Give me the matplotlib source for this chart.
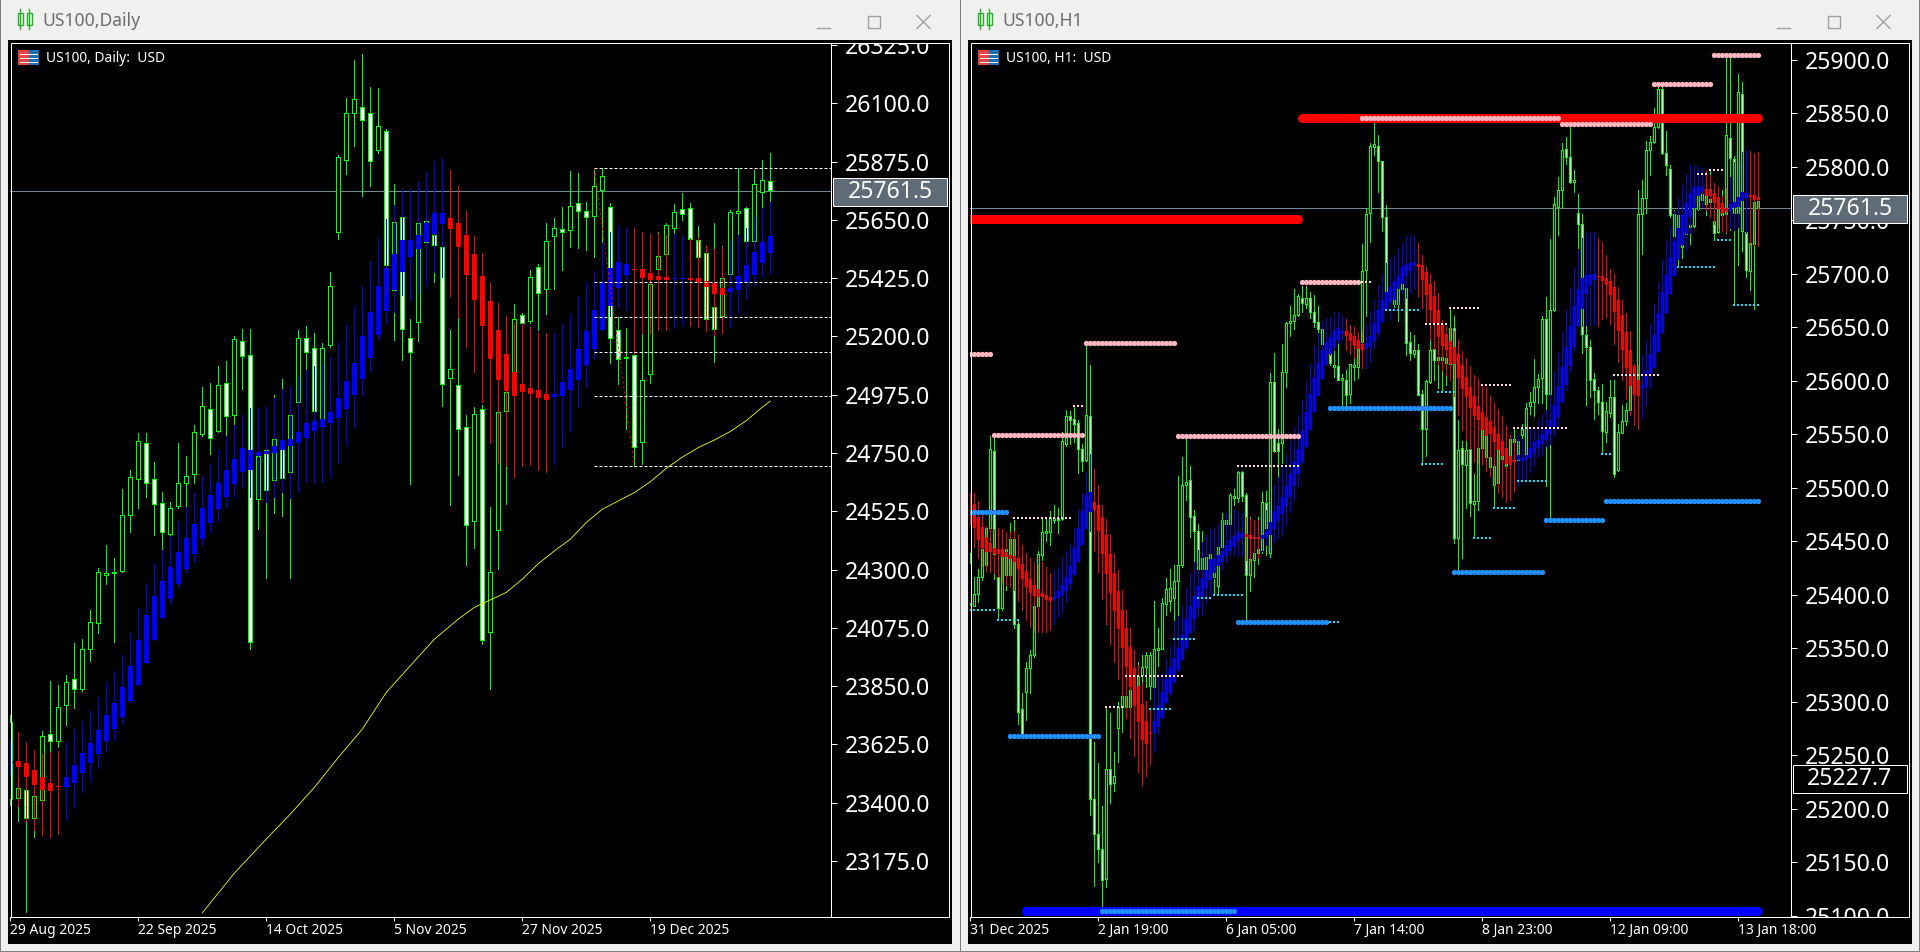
import matplotlib
matplotlib.use("Agg")
import matplotlib.pyplot as plt
import numpy as np
from matplotlib.patches import Rectangle
from matplotlib.transforms import Bbox

plt.rcParams["font.family"] = ["Noto Sans", "DejaVu Sans"]

FIG_W, FIG_H = 1920, 952
ONE_PX = 0.72

PRICE_NOW = 25761.5
PRICE_OTHER = 25227.7

# daily chart: plain candles
D_TOP = [
    23710, 23456, 23449, 23425, 23657, 23665, 23769, 23865, 23877, 23993,
    24097, 24290, 24285, 24291, 24510, 24656, 24795, 24788, 24649, 24556,
    24537, 24633, 24662, 24830, 24930, 24918, 25012, 25022, 25189, 25184,
    25130, 24739, 24762, 24803, 24800, 24896, 25193, 25193, 25154, 25154,
    25394, 25891, 26061, 26115, 26084, 26064, 26011, 25992, 25640, 25660,
    25195, 25637, 25645, 25592, 25544, 25073, 25012, 24849, 24900, 24919,
    24290, 24910, 24987, 25266, 25282, 25428, 25467, 25567, 25617, 25616,
    25702, 25714, 25683, 25782, 25818, 25698, 25224, 25120, 25130, 25031,
    25401, 25512, 25629, 25679, 25691, 25695, 25571, 25521, 25313, 25424,
    25679, 25685, 25695, 25787, 25803, 25799,
]
D_BOT = [
    23414, 23420, 23343, 23343, 23409, 23640, 23640, 23779, 23841, 23841,
    23995, 24092, 24281, 24287, 24295, 24512, 24649, 24636, 24552, 24447,
    24439, 24546, 24636, 24668, 24825, 24807, 24836, 24892, 24898, 25125,
    24021, 24574, 24606, 24646, 24655, 24678, 24948, 25139, 24914, 24875,
    25168, 25602, 25880, 26064, 26034, 25876, 25921, 25477, 25380, 25228,
    25139, 25257, 25565, 25553, 25015, 25038, 24842, 24471, 24487, 24027,
    24058, 24452, 24914, 25058, 25251, 25261, 25367, 25382, 25589, 25602,
    25610, 25683, 25660, 25664, 25764, 25193, 25112, 25116, 24772, 24794,
    25054, 25462, 25520, 25620, 25674, 25575, 25508, 25269, 25230, 25277,
    25440, 25678, 25570, 25570, 25759, 25764,
]
D_HIGH = [
    23740, 23497, 23500, 23470, 23678, 23870, 23855, 23892, 24016, 24031,
    24143, 24306, 24395, 24345, 24610, 24685, 24826, 24826, 24717, 24600,
    24561, 24788, 24739, 24858, 25005, 25019, 25086, 25105, 25202, 25228,
    25228, 24813, 24815, 24974, 25036, 24955, 25224, 25239, 25213, 25174,
    25448, 25900, 26119, 26267, 26290, 26162, 26158, 26000, 25788, 25765,
    25266, 25700, 25675, 25624, 25598, 25225, 25276, 24897, 24929, 24936,
    24542, 24936, 25084, 25325, 25292, 25457, 25478, 25637, 25656, 25701,
    25839, 25830, 25720, 25849, 25849, 25714, 25276, 25232, 25264, 25222,
    25408, 25602, 25637, 25711, 25752, 25714, 25626, 25547, 25637, 25549,
    25688, 25849, 25701, 25843, 25881, 25908,
]
D_LOW = [
    23390, 23328, 22980, 23266, 23380, 23594, 23616, 23701, 23764, 23833,
    23949, 24057, 24246, 24022, 24289, 24447, 24539, 24581, 24434, 24376,
    24427, 24537, 24542, 24636, 24817, 24747, 24833, 24813, 24858, 24997,
    23995, 24456, 24269, 24520, 24505, 24269, 24800, 25000, 24903, 24870,
    25161, 25576, 25828, 25936, 25743, 25782, 25909, 25470, 25186, 25109,
    24630, 25184, 25399, 25412, 24932, 24550, 24665, 24317, 24385, 24012,
    23841, 24304, 24552, 25032, 25212, 25253, 25223, 25287, 25384, 25457,
    25547, 25543, 25534, 25508, 25405, 25099, 25017, 24842, 24698, 24708,
    25019, 25431, 25508, 25594, 25650, 25572, 25502, 25264, 25103, 25270,
    25431, 25585, 25566, 25566, 25695, 25720,
]
D_WHITE = [
    2, 5, 8, 17, 18, 19, 25, 27, 29, 30, 32, 34, 37, 38, 44, 45, 47, 49, 50,
    53, 54, 56, 57, 59, 64, 66, 69, 71, 72, 75, 76, 78, 84, 85, 86, 87, 88,
    92, 95,
]

# daily chart: smoothed blue/red candles
DS_TOP = [
    23559, 23561, 23553, 23526, 23499, 23476, 23465, 23499, 23545, 23592,
    23630, 23682, 23738, 23785, 23846, 23927, 24029, 24124, 24197, 24255,
    24309, 24368, 24423, 24477, 24537, 24587, 24634, 24685, 24726, 24769,
    24762, 24754, 24757, 24778, 24801, 24803, 24830, 24865, 24873, 24880,
    24909, 24963, 25027, 25097, 25202, 25295, 25395, 25464, 25518, 25572,
    25572, 25590, 25637, 25675, 25675, 25657, 25638, 25592, 25518, 25433,
    25337, 25225, 25132, 25062, 25017, 25000, 24994, 24978, 24977, 25023,
    25073, 25150, 25220, 25302, 25408, 25464, 25486, 25478, 25460, 25459,
    25444, 25434, 25428, 25426, 25426, 25426, 25424, 25415, 25405, 25387,
    25386, 25433, 25475, 25527, 25563, 25588,
]
DS_BOT = [
    23555, 23539, 23501, 23469, 23451, 23447, 23460, 23459, 23477, 23513,
    23552, 23590, 23637, 23685, 23732, 23791, 23855, 23940, 24030, 24115,
    24185, 24246, 24303, 24362, 24419, 24478, 24532, 24581, 24632, 24677,
    24685, 24739, 24747, 24749, 24762, 24778, 24788, 24808, 24834, 24850,
    24865, 24886, 24920, 24974, 25034, 25118, 25206, 25298, 25379, 25450,
    25507, 25538, 25566, 25596, 25635, 25615, 25545, 25437, 25341, 25242,
    25111, 25033, 24991, 24972, 24987, 24979, 24963, 24956, 24967, 24972,
    24995, 25033, 25090, 25152, 25226, 25319, 25388, 25437, 25458, 25427,
    25419, 25419, 25419, 25422, 25422, 25419, 25412, 25392, 25365, 25361,
    25373, 25381, 25406, 25437, 25484, 25522,
]
DS_HIGH = [
    23640, 23674, 23635, 23604, 23588, 23594, 23600, 23635, 23684, 23716,
    23759, 23808, 23867, 23908, 23971, 24055, 24152, 24248, 24322, 24376,
    24428, 24487, 24541, 24600, 24662, 24713, 24762, 24816, 24859, 24897,
    24923, 24923, 24933, 24962, 24998, 25009, 25043, 25071, 25084, 25097,
    25120, 25179, 25243, 25318, 25395, 25490, 25580, 25652, 25707, 25765,
    25768, 25799, 25834, 25876, 25889, 25842, 25781, 25684, 25588, 25521,
    25405, 25328, 25279, 25253, 25253, 25236, 25219, 25212, 25212, 25248,
    25287, 25356, 25410, 25451, 25560, 25605, 25626, 25617, 25617, 25605,
    25596, 25601, 25592, 25596, 25588, 25579, 25579, 25553, 25536, 25547,
    25572, 25592, 25617, 25665, 25695, 25720,
]
DS_LOW = [
    23510, 23388, 23328, 23296, 23276, 23266, 23281, 23334, 23384, 23442,
    23485, 23536, 23598, 23639, 23706, 23787, 23855, 23940, 24030, 24115,
    24172, 24233, 24289, 24331, 24394, 24441, 24486, 24542, 24581, 24619,
    24582, 24585, 24561, 24582, 24598, 24578, 24598, 24640, 24634, 24640,
    24659, 24713, 24781, 24852, 24974, 25067, 25189, 25251, 25296, 25360,
    25345, 25367, 25399, 25450, 25431, 25356, 25276, 25161, 25064, 24948,
    24790, 24710, 24704, 24656, 24700, 24704, 24685, 24678, 24708, 24775,
    24835, 24927, 25006, 25112, 25225, 25276, 25315, 25302, 25131, 25212,
    25215, 25225, 25225, 25234, 25244, 25240, 25235, 25222, 25206, 25215,
    25238, 25292, 25343, 25397, 25431, 25444,
]
DS_BLUE_RUNS = [(0, 0), (7, 54), (68, 77), (83, 84), (90, 95)]

MA_BARS = [
    24, 28, 32, 35, 38, 41, 44, 47, 50, 53, 56, 58, 60, 62, 64, 66, 68, 70,
    72, 74, 76, 78, 80, 82, 84, 86, 88, 90, 92, 94, 95,
]
MA_VALUES = [
    22975, 23128, 23260, 23356, 23459, 23575, 23684, 23826, 23929, 24031,
    24109, 24154, 24183, 24212, 24263, 24323, 24372, 24417, 24482, 24533,
    24565, 24597, 24639, 24691, 24734, 24771, 24800, 24833, 24875, 24927,
    24950,
]
D_DASH_START = 73
D_DASH_LEVELS = [25849, 25409, 25274, 25139, 24969, 24699]
D_ZIGZAG_BARS = [73, 78]
D_ZIGZAG_VALUES = [25849, 24703]

D_YTICKS = [
    23175, 23400, 23625, 23850, 24075, 24300, 24525, 24750, 24975, 25200,
    25425, 25650, 25875, 26100, 26325,
]
D_XLABELS = ["29 Aug 2025", "22 Sep 2025", "14 Oct 2025", "5 Nov 2025", "27 Nov 2025", "19 Dec 2025"]

# H1 chart: plain candles
H_TOP = [
    25430, 25401, 25417, 25443, 25462, 25536, 25534, 25417, 25436, 25443,
    25452, 25452, 25373, 25293, 25331, 25344, 25389, 25438, 25459, 25460,
    25473, 25472, 25472, 25544, 25567, 25567, 25564, 25561, 25536, 25568,
    25567, 25209, 25176, 25162, 25237, 25237, 25230, 25295, 25305, 25305,
    25311, 25322, 25324, 25332, 25344, 25344, 25349, 25350, 25392, 25405,
    25406, 25413, 25428, 25503, 25505, 25507, 25474, 25460, 25434, 25435,
    25438, 25426, 25445, 25470, 25470, 25493, 25492, 25515, 25515, 25493,
    25433, 25439, 25443, 25487, 25486, 25599, 25599, 25542, 25608, 25654,
    25656, 25662, 25679, 25677, 25677, 25677, 25664, 25655, 25648, 25629,
    25625, 25615, 25614, 25603, 25601, 25616, 25615, 25638, 25703, 25756,
    25820, 25821, 25820, 25806, 25753, 25680, 25680, 25686, 25691, 25687,
    25636, 25629, 25629, 25588, 25600, 25629, 25630, 25622, 25622, 25621,
    25649, 25649, 25535, 25537, 25535, 25536, 25488, 25537, 25562, 25557,
    25529, 25520, 25535, 25530, 25526, 25546, 25546, 25544, 25555, 25575,
    25580, 25594, 25602, 25658, 25658, 25666, 25765, 25778, 25816, 25817,
    25809, 25788, 25757, 25747, 25643, 25632, 25602, 25591, 25580, 25572,
    25585, 25585, 25552, 25562, 25573, 25598, 25604, 25756, 25771, 25816,
    25823, 25837, 25873, 25873, 25813, 25798, 25756, 25755, 25735, 25741,
    25746, 25763, 25773, 25775, 25777, 25770, 25749, 25766, 25766, 25830,
    25827, 25807, 25870, 25868, 25739, 25729, 25767, 25768,
]
H_BOT = [
    25392, 25389, 25401, 25417, 25428, 25462, 25438, 25388, 25388, 25418,
    25418, 25373, 25290, 25269, 25309, 25331, 25344, 25389, 25437, 25458,
    25459, 25470, 25470, 25471, 25541, 25563, 25560, 25536, 25525, 25526,
    25209, 25176, 25162, 25133, 25134, 25223, 25224, 25275, 25295, 25295,
    25295, 25311, 25307, 25325, 25332, 25315, 25314, 25348, 25349, 25391,
    25394, 25397, 25413, 25428, 25503, 25473, 25460, 25424, 25424, 25424,
    25423, 25417, 25408, 25445, 25466, 25466, 25490, 25490, 25492, 25418,
    25418, 25432, 25439, 25442, 25462, 25439, 25534, 25534, 25542, 25608,
    25654, 25656, 25662, 25673, 25672, 25664, 25655, 25648, 25634, 25616,
    25617, 25613, 25601, 25601, 25587, 25588, 25613, 25613, 25636, 25704,
    25757, 25819, 25806, 25753, 25683, 25675, 25672, 25672, 25686, 25635,
    25626, 25625, 25587, 25555, 25555, 25599, 25619, 25619, 25619, 25617,
    25616, 25453, 25453, 25522, 25521, 25486, 25485, 25488, 25537, 25529,
    25519, 25503, 25504, 25527, 25520, 25531, 25543, 25526, 25549, 25531,
    25576, 25580, 25594, 25603, 25588, 25588, 25666, 25763, 25778, 25809,
    25786, 25786, 25747, 25644, 25632, 25601, 25591, 25580, 25553, 25552,
    25570, 25513, 25517, 25551, 25562, 25573, 25591, 25601, 25756, 25771,
    25816, 25823, 25837, 25813, 25802, 25755, 25735, 25738, 25725, 25737,
    25744, 25745, 25761, 25769, 25765, 25767, 25738, 25739, 25755, 25756,
    25808, 25757, 25757, 25740, 25704, 25703, 25728, 25762,
]
H_HIGH = [
    25439, 25417, 25424, 25445, 25464, 25548, 25548, 25442, 25460, 25448,
    25467, 25470, 25375, 25308, 25337, 25348, 25398, 25441, 25471, 25471,
    25478, 25484, 25481, 25552, 25573, 25572, 25576, 25563, 25541, 25633,
    25615, 25262, 25243, 25202, 25295, 25289, 25253, 25300, 25320, 25317,
    25323, 25333, 25337, 25344, 25346, 25346, 25394, 25369, 25397, 25416,
    25424, 25428, 25511, 25529, 25546, 25520, 25479, 25466, 25460, 25445,
    25445, 25438, 25451, 25476, 25476, 25495, 25499, 25516, 25516, 25495,
    25473, 25464, 25473, 25496, 25497, 25607, 25626, 25555, 25634, 25655,
    25670, 25686, 25681, 25689, 25689, 25683, 25680, 25670, 25654, 25638,
    25635, 25628, 25636, 25606, 25610, 25616, 25621, 25644, 25728, 25762,
    25822, 25842, 25830, 25806, 25764, 25688, 25699, 25688, 25693, 25688,
    25646, 25643, 25634, 25591, 25601, 25639, 25633, 25632, 25635, 25629,
    25668, 25661, 25563, 25544, 25544, 25538, 25513, 25540, 25571, 25571,
    25538, 25527, 25538, 25534, 25529, 25549, 25555, 25546, 25560, 25579,
    25590, 25620, 25606, 25661, 25678, 25733, 25772, 25791, 25822, 25828,
    25838, 25797, 25775, 25756, 25669, 25638, 25607, 25594, 25597, 25580,
    25601, 25601, 25560, 25577, 25579, 25613, 25616, 25778, 25788, 25824,
    25829, 25855, 25876, 25875, 25834, 25802, 25760, 25760, 25745, 25750,
    25747, 25769, 25775, 25778, 25794, 25797, 25766, 25769, 25778, 25903,
    25903, 25810, 25887, 25879, 25741, 25738, 25769, 25770,
]
H_LOW = [
    25390, 25389, 25393, 25414, 25426, 25454, 25415, 25376, 25386, 25404,
    25417, 25369, 25279, 25268, 25283, 25308, 25342, 25388, 25432, 25450,
    25446, 25467, 25458, 25470, 25539, 25541, 25543, 25514, 25516, 25525,
    25194, 25128, 25150, 25107, 25127, 25205, 25216, 25244, 25272, 25292,
    25294, 25309, 25286, 25301, 25314, 25302, 25313, 25333, 25349, 25381,
    25385, 25363, 25375, 25426, 25489, 25454, 25431, 25423, 25422, 25420,
    25417, 25401, 25401, 25442, 25460, 25464, 25484, 25487, 25488, 25375,
    25403, 25417, 25429, 25439, 25437, 25435, 25533, 25510, 25523, 25594,
    25642, 25648, 25661, 25664, 25668, 25659, 25650, 25642, 25633, 25615,
    25615, 25604, 25601, 25576, 25576, 25579, 25601, 25603, 25635, 25661,
    25730, 25811, 25777, 25740, 25675, 25669, 25669, 25656, 25682, 25624,
    25619, 25622, 25587, 25521, 25530, 25598, 25601, 25593, 25590, 25596,
    25616, 25448, 25423, 25434, 25481, 25474, 25453, 25479, 25529, 25526,
    25513, 25481, 25502, 25524, 25513, 25526, 25537, 25520, 25543, 25529,
    25569, 25567, 25579, 25579, 25502, 25471, 25665, 25736, 25763, 25803,
    25785, 25777, 25724, 25626, 25577, 25585, 25564, 25569, 25532, 25543,
    25566, 25510, 25516, 25551, 25559, 25568, 25585, 25598, 25719, 25757,
    25792, 25822, 25836, 25812, 25792, 25753, 25707, 25707, 25715, 25722,
    25728, 25744, 25760, 25763, 25755, 25753, 25732, 25738, 25753, 25738,
    25741, 25671, 25708, 25721, 25697, 25685, 25667, 25760,
]
H_WHITE = [
    6, 7, 11, 12, 13, 22, 25, 26, 27, 28, 30, 31, 32, 33, 35, 55, 56, 57, 68,
    69, 74, 76, 77, 83, 85, 86, 87, 90, 92, 94, 102, 103, 104, 109, 110, 112,
    113, 116, 121, 123, 125, 144, 149, 150, 152, 153, 154, 155, 156, 157, 158,
    161, 173, 174, 175, 186, 190, 191, 193, 194,
]

# H1 chart: smoothed blue/red candles
HS_TOP = [
    25485, 25485, 25473, 25463, 25454, 25448, 25444, 25443, 25443, 25440,
    25437, 25436, 25434, 25429, 25422, 25415, 25409, 25405, 25402, 25400,
    25398, 25398, 25403, 25409, 25417, 25427, 25444, 25462, 25478, 25493,
    25496, 25487, 25484, 25473, 25456, 25438, 25420, 25403, 25386, 25369,
    25351, 25331, 25315, 25298, 25282, 25271, 25282, 25296, 25309, 25321,
    25332, 25341, 25350, 25362, 25377, 25389, 25399, 25408, 25416, 25423,
    25433, 25433, 25437, 25441, 25446, 25451, 25455, 25459, 25458, 25457,
    25456, 25454, 25454, 25456, 25460, 25468, 25478, 25483, 25491, 25502,
    25513, 25525, 25536, 25553, 25571, 25588, 25604, 25617, 25629, 25636,
    25641, 25647, 25649, 25647, 25647, 25645, 25642, 25638, 25634, 25635,
    25642, 25654, 25666, 25676, 25683, 25688, 25693, 25698, 25706, 25709,
    25710, 25711, 25709, 25708, 25702, 25691, 25679, 25666, 25653, 25644,
    25637, 25632, 25625, 25615, 25604, 25594, 25586, 25576, 25571, 25566,
    25562, 25557, 25550, 25544, 25537, 25530, 25526, 25531, 25528, 25531,
    25537, 25543, 25545, 25550, 25555, 25563, 25577, 25594, 25613, 25632,
    25651, 25670, 25686, 25696, 25699, 25700, 25700, 25698, 25698, 25696,
    25693, 25688, 25676, 25662, 25646, 25629, 25614, 25601, 25596, 25609,
    25625, 25643, 25663, 25683, 25699, 25716, 25731, 25743, 25755, 25766,
    25776, 25781, 25782, 25781, 25779, 25779, 25776, 25772, 25766, 25762,
    25765, 25767, 25772, 25777, 25776, 25774, 25774, 25772,
]
HS_BOT = [
    25477, 25462, 25451, 25444, 25440, 25440, 25438, 25438, 25435, 25435,
    25433, 25431, 25424, 25415, 25407, 25402, 25399, 25398, 25398, 25395,
    25394, 25395, 25397, 25399, 25403, 25410, 25418, 25431, 25446, 25461,
    25477, 25479, 25460, 25438, 25419, 25402, 25385, 25368, 25350, 25332,
    25314, 25296, 25281, 25264, 25260, 25270, 25271, 25276, 25285, 25299,
    25308, 25317, 25330, 25339, 25350, 25364, 25377, 25388, 25398, 25406,
    25414, 25420, 25427, 25431, 25436, 25441, 25445, 25450, 25453, 25454,
    25452, 25452, 25452, 25452, 25453, 25456, 25461, 25469, 25475, 25482,
    25491, 25502, 25513, 25524, 25538, 25554, 25571, 25586, 25602, 25615,
    25625, 25632, 25638, 25644, 25642, 25637, 25633, 25630, 25629, 25630,
    25632, 25637, 25645, 25655, 25666, 25673, 25676, 25686, 25691, 25698,
    25703, 25707, 25706, 25694, 25680, 25666, 25654, 25641, 25633, 25629,
    25616, 25616, 25603, 25592, 25585, 25575, 25567, 25563, 25554, 25548,
    25550, 25543, 25535, 25530, 25522, 25521, 25524, 25526, 25525, 25526,
    25528, 25532, 25537, 25541, 25545, 25550, 25557, 25566, 25580, 25596,
    25614, 25632, 25651, 25667, 25681, 25690, 25694, 25697, 25693, 25690,
    25680, 25664, 25647, 25629, 25612, 25595, 25587, 25586, 25592, 25594,
    25605, 25612, 25627, 25645, 25663, 25681, 25698, 25714, 25727, 25737,
    25753, 25762, 25773, 25777, 25773, 25773, 25766, 25761, 25757, 25758,
    25759, 25762, 25763, 25768, 25771, 25772, 25769, 25769,
]
HS_HIGH = [
    25495, 25495, 25488, 25479, 25464, 25462, 25461, 25462, 25461, 25459,
    25459, 25460, 25456, 25446, 25439, 25434, 25431, 25429, 25431, 25426,
    25420, 25423, 25426, 25435, 25441, 25448, 25462, 25480, 25495, 25516,
    25532, 25518, 25503, 25484, 25471, 25457, 25438, 25423, 25404, 25386,
    25369, 25348, 25334, 25317, 25301, 25292, 25321, 25324, 25327, 25341,
    25352, 25375, 25380, 25389, 25406, 25420, 25431, 25442, 25449, 25456,
    25461, 25463, 25466, 25470, 25476, 25476, 25479, 25478, 25476, 25473,
    25472, 25470, 25470, 25475, 25479, 25487, 25503, 25510, 25520, 25532,
    25544, 25557, 25568, 25582, 25599, 25616, 25633, 25645, 25656, 25659,
    25660, 25664, 25664, 25661, 25658, 25652, 25650, 25646, 25647, 25653,
    25665, 25676, 25690, 25700, 25710, 25714, 25718, 25724, 25730, 25735,
    25736, 25736, 25729, 25718, 25706, 25700, 25693, 25682, 25657, 25651,
    25649, 25647, 25638, 25628, 25621, 25614, 25605, 25602, 25597, 25594,
    25586, 25579, 25574, 25567, 25558, 25549, 25546, 25550, 25546, 25555,
    25557, 25558, 25563, 25569, 25573, 25591, 25609, 25627, 25647, 25667,
    25687, 25706, 25721, 25734, 25738, 25739, 25739, 25734, 25729, 25718,
    25705, 25700, 25688, 25676, 25663, 25647, 25616, 25615, 25624, 25638,
    25654, 25672, 25692, 25714, 25731, 25745, 25759, 25771, 25783, 25793,
    25803, 25802, 25801, 25799, 25796, 25792, 25785, 25781, 25773, 25780,
    25791, 25805, 25805, 25814, 25816, 25815, 25813, 25814,
]
HS_LOW = [
    25466, 25445, 25434, 25427, 25422, 25421, 25420, 25417, 25412, 25409,
    25407, 25404, 25394, 25386, 25376, 25370, 25367, 25365, 25365, 25365,
    25367, 25373, 25379, 25384, 25393, 25405, 25418, 25431, 25446, 25461,
    25460, 25441, 25421, 25396, 25373, 25354, 25337, 25321, 25303, 25285,
    25266, 25249, 25234, 25222, 25230, 25242, 25253, 25270, 25285, 25299,
    25306, 25317, 25329, 25339, 25349, 25364, 25367, 25380, 25381, 25392,
    25401, 25416, 25420, 25424, 25431, 25437, 25437, 25437, 25436, 25432,
    25431, 25434, 25434, 25441, 25446, 25440, 25449, 25453, 25457, 25465,
    25477, 25489, 25502, 25523, 25538, 25554, 25571, 25586, 25602, 25615,
    25624, 25631, 25635, 25638, 25629, 25625, 25621, 25616, 25612, 25612,
    25618, 25631, 25641, 25654, 25666, 25657, 25672, 25672, 25682, 25677,
    25682, 25686, 25679, 25668, 25654, 25639, 25630, 25616, 25610, 25605,
    25601, 25586, 25568, 25554, 25545, 25536, 25524, 25523, 25522, 25516,
    25511, 25503, 25496, 25491, 25487, 25489, 25497, 25502, 25505, 25506,
    25515, 25521, 25529, 25532, 25539, 25541, 25548, 25557, 25580, 25591,
    25609, 25629, 25651, 25651, 25652, 25652, 25652, 25651, 25658, 25660,
    25653, 25634, 25618, 25601, 25583, 25568, 25559, 25555, 25565, 25577,
    25593, 25612, 25627, 25645, 25663, 25681, 25698, 25714, 25727, 25722,
    25738, 25755, 25761, 25763, 25760, 25753, 25747, 25743, 25740, 25739,
    25743, 25741, 25744, 25741, 25738, 25727, 25727, 25726,
]
HS_BLUE_RUNS = [(21, 30), (46, 68), (73, 93), (99, 111), (137, 156), (168, 183), (190, 194)]

# H1 levels: (price, first bar, last bar)
THICK_RED = [(25751, 0, 82), (25846, 83, 197)]
THICK_BLUE = [(25104, 14, 197)]
PINK_DOTS = [
    (25625, 0, 5), (25549, 6, 28), (25635, 29, 51), (25548, 52, 82), (25692, 83, 97),
    (25846, 98, 147), (25840, 148, 170), (25878, 171, 185), (25905, 186, 197),
]
SKY_DOTS = [
    (25477, 0, 9), (25268, 10, 32), (25104, 33, 66), (25374, 67, 89),
    (25575, 90, 120), (25421, 121, 143), (25470, 144, 158), (25488, 159, 197),
]
PALE_SMALL = [
    (25472, 11, 25), (25576, 26, 28), (25295, 34, 38), (25324, 39, 53), (25520, 67, 82),
    (25692, 97, 100), (25653, 114, 119), (25668, 120, 127), (25596, 128, 135),
    (25556, 136, 149), (25605, 161, 172), (25793, 182, 184), (25797, 185, 188),
]
CYAN_SMALL = [
    (25386, 0, 6), (25376, 7, 12), (25293, 45, 50), (25359, 51, 56), (25397, 57, 60),
    (25400, 61, 68), (25374, 90, 92), (25666, 104, 112), (25522, 113, 118), (25590, 117, 121),
    (25453, 126, 130), (25481, 131, 136), (25506, 137, 144), (25532, 158, 160),
    (25706, 177, 186), (25732, 187, 190), (25671, 191, 197),
]

H_YTICKS = list(range(25100, 25901, 50))
H_XLABELS = ["31 Dec 2025", "2 Jan 19:00", "6 Jan 05:00", "7 Jan 14:00", "8 Jan 23:00", "12 Jan 09:00", "13 Jan 18:00"]


def px_rect(left, top, right, bottom):
    return [left / FIG_W, 1 - bottom / FIG_H, (right - left) / FIG_W, (bottom - top) / FIG_H]


def draw_smoothed(ax, top, bot, high, low, blue_runs, body_width):
    bars = np.arange(len(top))
    is_blue = np.zeros(len(top), dtype=bool)
    for first, last in blue_runs:
        is_blue[first:last + 1] = True
    colors = np.where(is_blue, "#0000ff", "#ff0000")
    ax.vlines(bars, low, high, colors=colors, lw=ONE_PX, zorder=4, antialiased=False)
    ax.bar(bars, np.array(top) - np.array(bot), bottom=bot, width=body_width,
           color=colors, lw=0, zorder=4, antialiased=False)


def draw_candles(ax, top, bot, high, low, white_bars, body_width):
    bars = np.arange(len(top))
    fills = ["#ffffff" if b in white_bars else "#000000" for b in bars]
    ax.vlines(bars, low, high, colors="#00ff00", lw=ONE_PX, zorder=2, antialiased=False)
    ax.bar(bars, np.array(top) - np.array(bot), bottom=bot, width=body_width,
           color=fills, edgecolor="#00ff00", lw=ONE_PX, zorder=3, antialiased=False)


def style_axis(ax, ylim, xlim, yticks, xticks, xlabels):
    ax.set_facecolor("#000000")
    ax.set_xlim(*xlim)
    ax.set_ylim(*ylim)
    for side in ("left", "top"):
        ax.spines[side].set_visible(False)
    for side in ("right", "bottom"):
        ax.spines[side].set_color("#ffffff")
        ax.spines[side].set_linewidth(ONE_PX)
    ax.yaxis.tick_right()
    ax.set_yticks(yticks)
    ax.set_yticklabels([f"{v:.1f}" for v in yticks], fontsize=16.6, color="#ffffff")
    ax.set_xticks(xticks)
    ax.set_xticklabels(xlabels, fontsize=10, color="#ffffff", ha="left")
    ax.tick_params(axis="y", length=4.3, width=ONE_PX, color="#ffffff", pad=5.6)
    ax.tick_params(axis="x", length=2.9, width=ONE_PX, color="#ffffff", pad=1.6)


def clip_price_labels(ax, left, top, right, bottom):
    box = Bbox([[left, FIG_H - bottom], [right, FIG_H - top]])
    for label in ax.get_yticklabels():
        label.set_clip_box(box)
        label.set_clip_on(True)


def draw_window(chrome, x0, title):
    grey = "#a0a0a0"
    chrome.add_patch(Rectangle((x0, 0), 1.2, FIG_H, color="#7f7f7f", lw=0))
    chrome.add_patch(Rectangle((x0 + 8, 40), 944, 904, color="#000000", lw=0))
    chrome.text(x0 + 42, 20.5, title, fontsize=12.6, color="#6d6d6d", va="center", ha="left")
    # candle icon in the title bar
    for left in (x0 + 17.5, x0 + 26.5):
        chrome.add_patch(Rectangle((left, 12.5), 5, 12, fc="#eafbe9", ec="#22b022", lw=1.0))
        chrome.plot([left + 2.5, left + 2.5], [8.5, 29], color="#22b022", lw=1.0)
    chrome.plot([x0 + 817, x0 + 830], [27.5, 27.5], color=grey, lw=1.0)
    chrome.add_patch(Rectangle((x0 + 867.5, 15.5), 12, 12, fc="none", ec=grey, lw=1.0))
    chrome.plot([x0 + 917, x0 + 930], [15.5, 28.5], color=grey, lw=1.0)
    chrome.plot([x0 + 917, x0 + 930], [28.5, 15.5], color=grey, lw=1.0)


def draw_overlay(top_ax, x0, legend, boxes):
    top_ax.add_patch(Rectangle((x0 + 10.5, 42.5), 938, 874.5, fc="none", ec="#ffffff", lw=ONE_PX))
    # small flag next to the symbol
    top_ax.add_patch(Rectangle((x0 + 18, 50), 10.5, 15, color="#e8453c", lw=0))
    top_ax.add_patch(Rectangle((x0 + 28.5, 50), 10.5, 15, color="#1c6fb5", lw=0))
    for y in (53.5, 57.5, 61.5):
        top_ax.plot([x0 + 20, x0 + 37], [y, y], color="#ffffff", lw=ONE_PX)
    top_ax.text(x0 + 46, 59, legend, fontsize=9.9, color="#ffffff", va="center", ha="left")
    for top, text, face in boxes:
        top_ax.add_patch(Rectangle((x0 + 832.7, top), 114.3, 28, fc=face, ec="#ffffff", lw=ONE_PX))
        top_ax.text(x0 + 890, top + 14, text, fontsize=16.6, color="#ffffff", va="center", ha="center")


def main() -> None:
    fig = plt.figure(figsize=(FIG_W / 100, FIG_H / 100), dpi=100, facecolor="#f0f0f0")

    chrome = fig.add_axes([0, 0, 1, 1], zorder=0)
    chrome.set_xlim(0, FIG_W)
    chrome.set_ylim(FIG_H, 0)
    chrome.axis("off")
    draw_window(chrome, 0, "US100,Daily")
    draw_window(chrome, 960, "US100,H1")
    chrome.add_patch(Rectangle((0, 950.8), FIG_W, 1.2, color="#7f7f7f", lw=0))
    chrome.add_patch(Rectangle((1918.8, 0), 1.2, FIG_H, color="#7f7f7f", lw=0))

    # daily chart
    day = fig.add_axes(px_rect(10.3, 43, 831.3, 917), zorder=1)
    style_axis(day, (22959, 26332.7), (0, 102.625), D_YTICKS, list(range(0, 81, 16)), D_XLABELS)
    day.axhline(PRICE_NOW, color="#778899", lw=ONE_PX, zorder=1, antialiased=False)
    draw_candles(day, D_TOP, D_BOT, D_HIGH, D_LOW, set(D_WHITE), 0.5)
    draw_smoothed(day, DS_TOP, DS_BOT, DS_HIGH, DS_LOW, DS_BLUE_RUNS, 0.625)
    day.plot(MA_BARS, MA_VALUES, color="#ffff00", lw=0.6, zorder=5)
    day.hlines(D_DASH_LEVELS, D_DASH_START, 102.625, colors="#ffffff", lw=ONE_PX,
               linestyles=(0, (3, 2)), zorder=5)
    day.plot(D_ZIGZAG_BARS, D_ZIGZAG_VALUES, color="#ff0000", lw=ONE_PX, ls=(0, (2, 3)), zorder=5)
    clip_price_labels(day, 832, 43, 948, 917)

    # H1 chart
    hour = fig.add_axes(px_rect(970.3, 43, 1791.3, 917), zorder=1)
    style_axis(hour, (25098.6, 25915.9), (0, 205.25), H_YTICKS, list(range(0, 193, 32)), H_XLABELS)
    hour.axhline(PRICE_NOW, color="#778899", lw=ONE_PX, zorder=1, antialiased=False)
    draw_candles(hour, H_TOP, H_BOT, H_HIGH, H_LOW, set(H_WHITE), 0.5)
    draw_smoothed(hour, HS_TOP, HS_BOT, HS_HIGH, HS_LOW, HS_BLUE_RUNS, 0.8)
    for level, first, last in THICK_RED:
        hour.plot([first, last], [level, level], color="#ff0000", lw=6.5, solid_capstyle="round", zorder=6)
    for level, first, last in THICK_BLUE:
        hour.plot([first, last], [level, level], color="#0000ff", lw=6.5, solid_capstyle="round", zorder=6)
    for level, first, last in PINK_DOTS:
        bars = np.arange(first, last + 1)
        hour.plot(bars, [level] * len(bars), "o", color="#ffb6c1", ms=3.8, mew=0, zorder=7)
    for level, first, last in SKY_DOTS:
        bars = np.arange(first, last + 1)
        hour.plot(bars, [level] * len(bars), "o", color="#1e90ff", ms=3.8, mew=0, zorder=7)
    for level, first, last in PALE_SMALL:
        bars = np.arange(first, last + 1)
        hour.plot(bars, [level] * len(bars), "s", color="#ffd8dc", ms=1.5, mew=0, zorder=8)
    for level, first, last in CYAN_SMALL:
        bars = np.arange(first, last + 1)
        hour.plot(bars, [level] * len(bars), "s", color="#00e5ff", ms=1.5, mew=0, zorder=8)
    clip_price_labels(hour, 1792, 43, 1908, 917)

    # frames and price boxes sit above both charts
    overlay = fig.add_axes([0, 0, 1, 1], zorder=2)
    overlay.set_xlim(0, FIG_W)
    overlay.set_ylim(FIG_H, 0)
    overlay.axis("off")
    overlay.patch.set_alpha(0)
    draw_overlay(overlay, 0, "US100, Daily:  USD", [(178, f"{PRICE_NOW:.1f}", "#5f6b77")])
    draw_overlay(overlay, 960, "US100, H1:  USD", [
        (195, f"{PRICE_NOW:.1f}", "#5f6b77"),
        (765, f"{PRICE_OTHER:.1f}", "#000000"),
    ])

    fig.savefig("out.png", dpi=100, facecolor=fig.get_facecolor())
    plt.close(fig)


if __name__ == "__main__":
    main()
